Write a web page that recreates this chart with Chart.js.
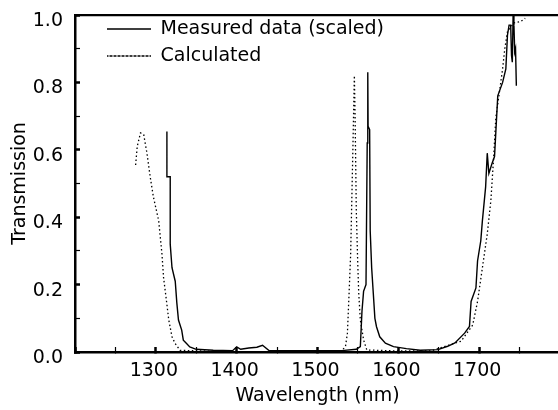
<!DOCTYPE html>
<html>
<head>
<meta charset="utf-8">
<script src="https://cdn.jsdelivr.net/npm/chart.js@4/dist/chart.umd.min.js"></script>
<style>
  body { margin: 0; overflow: hidden; background: #fff; }
  #wrap { width: 600px; height: 410px; }
</style>
</head>
<body>
<div id="wrap"><canvas id="chart" width="600" height="410"></canvas></div>
<script>
// measured transmission (solid)
const measuredX = [1313.7, 1313.7, 1317.8, 1317.8, 1320, 1324, 1326, 1328, 1332, 1334, 1338, 1342, 1350, 1371,
  1395, 1400, 1405, 1415, 1425, 1432, 1440, 1500, 1530, 1548, 1553, 1555, 1557, 1560, 1561.5, 1562.2, 1562.6,
  1564.5, 1565.2, 1567, 1569, 1571, 1573, 1577, 1584, 1594, 1610, 1627, 1649, 1661, 1670, 1682, 1688, 1690,
  1696, 1698, 1702, 1704, 1708, 1710, 1712, 1716, 1719, 1721, 1723, 1729, 1733, 1735, 1737, 1739, 1740, 1741,
  1742, 1743, 1744, 1745, 1746];
const measuredY = [0.654, 0.52, 0.52, 0.32, 0.25, 0.21, 0.145, 0.095, 0.065, 0.035, 0.025, 0.015, 0.008, 0.005,
  0.004, 0.015, 0.008, 0.012, 0.014, 0.02, 0.004, 0.004, 0.004, 0.008, 0.016, 0.12, 0.18, 0.2, 0.62, 0.83, 0.67,
  0.66, 0.36, 0.25, 0.175, 0.1, 0.075, 0.045, 0.026, 0.016, 0.01, 0.005, 0.007, 0.017, 0.027, 0.056, 0.076, 0.15,
  0.19, 0.27, 0.33, 0.39, 0.49, 0.59, 0.53, 0.56, 0.58, 0.67, 0.76, 0.8, 0.84, 0.94, 0.97, 0.97, 0.88, 0.86,
  1.0, 0.97, 0.89, 0.9, 0.79];

// calculated transmission (dotted)
const calcX = [1275, 1277, 1281, 1285, 1289, 1293, 1297, 1303.5, 1307.6, 1309.6, 1313, 1316, 1320, 1324, 1330,
  1400, 1500, 1530, 1534.6, 1537, 1539, 1541, 1543.5, 1545, 1545.6, 1546.5, 1548, 1549.7, 1551, 1553, 1557, 1561,
  1600, 1640, 1657, 1677.6, 1692, 1698, 1704, 1710, 1714.5, 1718, 1720.6, 1724.7, 1729, 1731.7, 1735, 1743,
  1751, 1757];
const calcY = [0.555, 0.61, 0.65, 0.645, 0.59, 0.52, 0.46, 0.39, 0.29, 0.22, 0.155, 0.095, 0.045, 0.025, 0.005,
  0, 0, 0.004, 0.016, 0.056, 0.17, 0.29, 0.57, 0.75, 0.82, 0.7, 0.42, 0.27, 0.175, 0.095, 0.036, 0.006,
  0.003, 0.003, 0.016, 0.032, 0.08, 0.15, 0.25, 0.35, 0.45, 0.58, 0.695, 0.765, 0.84, 0.9, 0.95, 0.977,
  0.98, 0.99];

const seriesNames = ["Measured data (scaled)", "Calculated"];
const xTitle = "Wavelength (nm)";
const yTitle = "Transmission";

function toPoints(xs, ys) {
  return xs.map((x, i) => ({ x: x, y: ys[i] }));
}

Chart.defaults.font.family = "'DejaVu Sans', sans-serif";
Chart.defaults.font.size = 19;
Chart.defaults.color = "#000";

// put the legend inside the plot, top left
const legendShift = {
  id: "legendShift",
  afterLayout(chart) {
    const lg = chart.legend;
    const w = lg.right - lg.left;
    lg.left = chart.chartArea.left + 24;
    lg.right = lg.left + w;
    lg.top = chart.chartArea.top - 3.5;
  },
};

new Chart(document.getElementById("chart"), {
  type: "line",
  data: {
    datasets: [
      {
        label: seriesNames[0],
        data: toPoints(measuredX, measuredY),
        borderColor: "#000",
        backgroundColor: "#000",
        borderWidth: 1.4,
        pointRadius: 0,
        tension: 0,
      },
      {
        label: seriesNames[1],
        data: toPoints(calcX, calcY),
        borderColor: "#000",
        backgroundColor: "#000",
        borderWidth: 1.3,
        borderDash: [1.5, 2.5],
        pointRadius: 0,
        tension: 0,
      },
    ],
  },
  options: {
    responsive: false,
    animation: false,
    layout: { padding: { left: 0, top: 0, right: 40, bottom: 0 } },
    plugins: {
      tooltip: { enabled: false },
      legend: {
        position: "chartArea",
        align: "start",
        labels: { boxWidth: 44, boxHeight: 0, padding: 8, font: { size: 19 } },
      },
    },
    scales: {
      x: {
        type: "linear",
        position: "bottom",
        min: 1200,
        max: 1800,
        afterFit: (s) => {
          s.height = 58;
          s.paddingLeft = 0;
          s.paddingRight = 0;
        },
        border: { color: "#000", width: 2.5 },
        grid: {
          drawOnChartArea: false,
          tickLength: -5,
          tickColor: "#000",
          tickWidth: (c) => (c.tick && c.tick.value % 100 === 0 ? 2.5 : 1.2),
        },
        ticks: {
          stepSize: 50,
          autoSkip: false,
          maxRotation: 0,
          padding: 13,
          labelOffset: -2,
          callback: (v) => (v % 100 === 0 && v > 1200 && v < 1800 ? String(v) : ""),
        },
        title: { display: true, text: xTitle, padding: { top: 0, bottom: 3 } },
      },
      xTop: {
        type: "linear",
        position: "top",
        min: 1200,
        max: 1800,
        afterFit: (s) => { s.height = 15; },
        border: { color: "#000", width: 2.2 },
        grid: { display: false },
        ticks: { display: false },
      },
      y: {
        min: 0,
        max: 1,
        afterFit: (s) => {
          s.width = 75;
          s.paddingTop = 0;
          s.paddingBottom = 0;
        },
        border: { color: "#000", width: 2.5 },
        grid: {
          drawOnChartArea: false,
          tickLength: -5,
          tickColor: "#000",
          tickWidth: (c) => (c.tick && Math.round(c.tick.value * 10) % 2 === 0 ? 2.5 : 1.2),
        },
        ticks: {
          stepSize: 0.1,
          padding: 17,
          labelOffset: 6,
          callback: (v) => (Math.round(v * 10) % 2 === 0 ? v.toFixed(1) : ""),
        },
        title: { display: true, text: yTitle, padding: { top: 9, bottom: 0 } },
      },
    },
  },
  plugins: [legendShift],
});
</script>
</body>
</html>
